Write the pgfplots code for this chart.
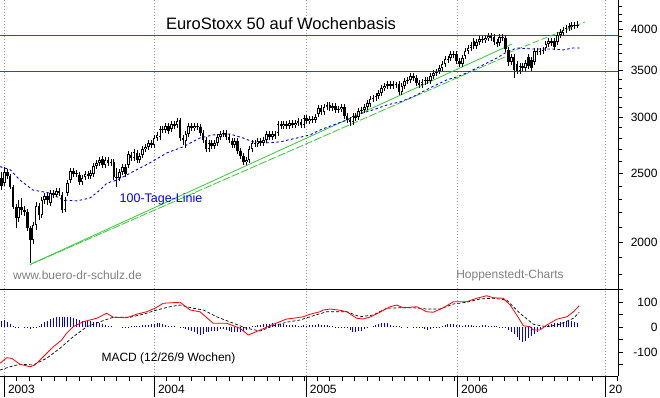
\documentclass[border=0pt]{standalone}
\usepackage{pgfplots}
\pgfplotsset{compat=1.18}
\usepackage{pgfplotstable}
\usepackage{fontspec}
\setmainfont{Liberation Sans}
\definecolor{trendgreen}{RGB}{51,204,51}
\definecolor{gridgray}{RGB}{150,150,150}
\definecolor{txtgray}{RGB}{128,128,128}

\pgfplotstableread{
i o h l c
0 2465 2514 2368 2399
1 2422 2555 2399 2514
2 2514 2538 2457 2481
3 2481 2497 2376 2391
4 2391 2407 2227 2241
5 2241 2263 2094 2163
6 2163 2292 2135 2241
7 2241 2307 2184 2220
8 2220 2249 2177 2205
9 2205 2227 2074 2094
10 2094 2108 1870 2014
11 2014 2135 1988 2114
12 2114 2278 2080 2249
13 2249 2271 2149 2184
14 2184 2315 2163 2292
15 2292 2345 2263 2322
16 2322 2345 2256 2292
17 2271 2368 2249 2345
18 2345 2368 2307 2330
19 2330 2383 2315 2360
20 2360 2383 2322 2345
21 2330 2353 2198 2220
22 2220 2315 2205 2292
23 2345 2446 2322 2422
24 2446 2546 2422 2522
25 2522 2546 2473 2497
26 2497 2530 2473 2505
27 2489 2514 2407 2430
28 2430 2489 2407 2465
29 2473 2522 2446 2497
30 2497 2522 2457 2481
31 2481 2530 2457 2505
32 2497 2588 2473 2563
33 2563 2613 2538 2588
34 2588 2638 2563 2613
35 2621 2647 2546 2571
36 2571 2638 2546 2613
37 2613 2638 2563 2588
38 2588 2621 2563 2596
39 2596 2621 2446 2473
40 2473 2546 2391 2465
41 2465 2538 2438 2514
42 2514 2580 2489 2555
43 2555 2580 2473 2497
44 2571 2690 2546 2664
45 2655 2681 2605 2630
46 2630 2707 2605 2681
47 2673 2699 2588 2613
48 2613 2673 2588 2647
49 2655 2734 2630 2707
50 2707 2752 2681 2725
51 2725 2787 2699 2761
52 2761 2787 2716 2743
53 2743 2833 2716 2805
54 2805 2860 2779 2833
55 2814 2917 2787 2888
56 2888 2917 2851 2879
57 2879 2945 2851 2917
58 2917 2945 2842 2870
59 2888 2964 2860 2936
60 2936 2964 2888 2917
61 2926 2995 2898 2964
62 2975 2995 2779 2805
63 2805 2833 2743 2787
64 2779 2870 2716 2842
65 2842 2945 2814 2917
66 2917 2945 2870 2898
67 2898 2945 2870 2917
68 2917 2945 2879 2907
69 2907 2936 2823 2851
70 2851 2879 2761 2787
71 2787 2814 2681 2707
72 2707 2787 2681 2761
73 2761 2787 2707 2734
74 2734 2787 2707 2761
75 2761 2842 2734 2814
76 2814 2870 2787 2842
77 2842 2879 2814 2851
78 2851 2879 2787 2814
79 2814 2842 2761 2787
80 2779 2805 2716 2743
81 2743 2805 2716 2779
82 2779 2805 2664 2690
83 2690 2716 2621 2647
84 2647 2673 2571 2596
85 2596 2638 2571 2613
86 2613 2734 2588 2707
87 2707 2787 2681 2761
88 2761 2787 2725 2752
89 2752 2805 2725 2779
90 2779 2805 2734 2761
91 2761 2814 2734 2787
92 2787 2870 2761 2842
93 2842 2870 2787 2814
94 2814 2870 2787 2842
95 2842 2870 2796 2823
96 2851 2964 2823 2936
97 2936 2964 2888 2917
98 2917 2964 2888 2936
99 2936 2964 2888 2917
100 2917 2975 2888 2945
101 2945 2975 2898 2926
102 2926 2975 2898 2945
103 2945 2995 2917 2964
104 2955 2985 2898 2926
105 2926 3024 2898 2995
106 2995 3024 2936 2964
107 2964 3015 2936 2985
108 2985 3015 2945 2975
109 2975 3034 2945 3005
110 3034 3124 3005 3094
111 3094 3124 3024 3054
112 3054 3134 3024 3104
113 3104 3155 3074 3124
114 3124 3155 3064 3094
115 3094 3145 3064 3114
116 3114 3145 3044 3074
117 3074 3114 3044 3084
118 3084 3134 3054 3104
119 3104 3134 2985 3015
120 3015 3044 2945 2975
121 2975 3005 2917 2955
122 2955 3044 2926 3015
123 3015 3044 2964 2995
124 3005 3094 2975 3064
125 3064 3104 3034 3074
126 3074 3134 3044 3104
127 3104 3175 3074 3145
128 3134 3219 3104 3188
129 3188 3229 3155 3198
130 3198 3250 3165 3219
131 3219 3282 3188 3250
132 3250 3336 3219 3303
133 3303 3357 3271 3325
134 3325 3379 3293 3346
135 3346 3379 3293 3325
136 3325 3379 3293 3346
137 3336 3368 3303 3346
138 3346 3379 3229 3261
139 3261 3357 3229 3325
140 3325 3412 3293 3379
141 3379 3423 3346 3390
142 3390 3468 3357 3434
143 3434 3468 3379 3412
144 3412 3445 3325 3357
145 3357 3390 3303 3336
146 3336 3401 3303 3368
147 3368 3423 3336 3390
148 3390 3423 3346 3379
149 3379 3468 3346 3434
150 3434 3501 3401 3468
151 3468 3513 3434 3479
152 3490 3559 3456 3524
153 3524 3605 3490 3570
154 3570 3664 3536 3628
155 3628 3664 3582 3617
156 3640 3724 3605 3688
157 3688 3724 3640 3676
158 3688 3724 3570 3605
159 3605 3640 3536 3570
160 3570 3676 3536 3640
161 3664 3760 3628 3724
162 3724 3797 3688 3760
163 3760 3834 3724 3797
164 3847 3884 3748 3785
165 3785 3872 3748 3834
166 3834 3910 3797 3872
167 3872 3910 3822 3859
168 3859 3922 3822 3884
169 3884 3948 3847 3910
170 3910 3948 3847 3884
171 3897 3935 3797 3834
172 3834 3872 3772 3809
173 3822 3935 3785 3897
174 3897 3935 3847 3884
175 3884 3922 3712 3748
176 3736 3772 3547 3593
177 3593 3688 3559 3652
178 3652 3688 3412 3501
179 3570 3605 3456 3490
180 3490 3582 3456 3547
181 3547 3582 3490 3524
182 3524 3617 3490 3582
183 3652 3688 3513 3547
184 3617 3652 3490 3524
185 3593 3760 3559 3724
186 3724 3760 3676 3712
187 3712 3760 3676 3724
188 3724 3772 3688 3736
189 3760 3847 3724 3809
190 3809 3884 3772 3847
191 3847 3884 3785 3822
192 3847 3884 3736 3772
193 3834 3961 3797 3922
194 3922 4000 3884 3961
195 3948 4026 3910 3987
196 3987 4052 3948 4013
197 4013 4079 3974 4039
198 4026 4092 3987 4052
199 4052 4092 4000 4039
200 4039 4106 4013 4052
}\candles

\pgfplotstableread{
i v
0 25
1 28
2 21
3 12
4 5
5 2
6 1
7 0
8 -2
9 -4
10 -8
11 -3
12 1
13 5
14 12
15 19
16 25
17 32
18 36
19 39
20 39
21 41
22 39
23 39
24 39
25 35
26 32
27 28
28 25
29 25
30 25
31 25
32 21
33 19
34 16
35 12
36 8
37 5
38 3
39 0
40 0
41 0
42 -1
43 2
44 2
45 3
46 5
47 5
48 6
49 8
50 8
51 10
52 12
53 12
54 16
55 16
56 12
57 8
58 5
59 5
60 3
61 0
62 -3
63 -5
64 -8
65 -11
66 -15
67 -19
68 -28
69 -32
70 -28
71 -21
72 -19
73 -15
74 -15
75 -15
76 -8
77 -8
78 -11
79 -15
80 -19
81 -21
82 -21
83 -19
84 -15
85 -11
86 -5
87 3
88 5
89 8
90 10
91 12
92 12
93 14
94 16
95 16
96 14
97 12
98 12
99 10
100 9
101 8
102 8
103 6
104 6
105 8
106 5
107 8
108 8
109 10
110 12
111 10
112 9
113 8
114 6
115 4
116 1
117 -1
118 -3
119 -4
120 -5
121 -11
122 -19
123 -21
124 -17
125 -15
126 -8
127 -5
128 0
129 5
130 8
131 11
132 15
133 16
134 16
135 8
136 5
137 4
138 3
139 1
140 0
141 -1
142 0
143 -1
144 -2
145 -4
146 -4
147 -8
148 -12
149 -8
150 -5
151 -3
152 2
153 5
154 8
155 11
156 12
157 12
158 10
159 8
160 5
161 7
162 8
163 8
164 6
165 5
166 5
167 8
168 8
169 6
170 5
171 4
172 3
173 1
174 -2
175 -5
176 -10
177 -18
178 -28
179 -40
180 -52
181 -58
182 -55
183 -45
184 -35
185 -28
186 -18
187 -8
188 2
189 5
190 8
191 12
192 15
193 18
194 20
195 22
196 24
197 25
198 24
199 21
200 16
}\hist

% build candle segments from the OHLC table
\pgfplotstablegetrowsof{\candles}
\pgfmathtruncatemacro{\lastrow}{\pgfplotsretval-1}
\gdef\wickpts{}\gdef\bodypts{}\gdef\hollowpts{}
\pgfplotsforeachungrouped \r in {0,...,\lastrow}{%
  \pgfplotstablegetelem{\r}{i}\of{\candles}\edef\ci{\pgfplotsretval}%
  \pgfplotstablegetelem{\r}{o}\of{\candles}\edef\co{\pgfplotsretval}%
  \pgfplotstablegetelem{\r}{h}\of{\candles}\edef\ch{\pgfplotsretval}%
  \pgfplotstablegetelem{\r}{l}\of{\candles}\edef\cl{\pgfplotsretval}%
  \pgfplotstablegetelem{\r}{c}\of{\candles}\edef\cc{\pgfplotsretval}%
  \pgfmathsetmacro{\blo}{min(\co,\cc)}%
  \pgfmathsetmacro{\bhi}{max(max(\co,\cc),\blo+8)}%
  \xdef\wickpts{\wickpts (\ci,\cl) (\ci,\ch) (\ci,nan) }%
  \xdef\bodypts{\bodypts (\ci,\blo) (\ci,\bhi) (\ci,nan) }%
  \pgfmathsetmacro{\wlo}{\co*1.0032}%
  \pgfmathsetmacro{\whi}{\cc/1.0032}%
  \pgfmathtruncatemacro{\isup}{\whi>\wlo ? 1 : 0}%
  \ifnum\isup=1 \xdef\hollowpts{\hollowpts (\ci,\wlo) (\ci,\whi) (\ci,nan) }\fi
}

\begin{document}
\begin{tikzpicture}
\path[use as bounding box] (0pt,0pt) rectangle (660pt,397pt);

\begin{axis}[
  at={(0pt,108pt)}, anchor=south west,
  width=618pt, height=289pt, scale only axis,
  xmin=-0.52, xmax=214.06,
  ymode=log, ymin=1716, ymax=4396,
  axis x line*=bottom, axis y line*=right,
  axis line style={black, line width=0.8pt},
  xtick={0.87,52.95,105.7,158.2,209.5}, xticklabels={},
  xtick style={draw=none},
  xmajorgrids, major x grid style={gridgray, dash pattern=on 1pt off 2pt, line width=0.6pt},
  ytick={2000,2500,3000,3500,4000},
  yticklabels={2000,2500,3000,3500,4000},
  minor ytick={1800,1900,2100,2200,2300,2400,2600,2700,2800,2900,3100,3200,3300,3400,3600,3700,3800,3900,4100,4200,4300},
  tick align=outside, major tick length=5pt, minor tick length=4pt,
  tick style={black, line width=0.6pt},
  yticklabel style={font=\fontsize{12}{12}\selectfont, anchor=east, xshift=38pt},
  unbounded coords=jump,
  clip=true,
]
\addplot[red, line width=0.9pt] coordinates {(-0.52,3920) (214.06,3920)};
\addplot[red, line width=0.9pt] coordinates {(-0.52,3488) (214.06,3488)};
\addplot[trendgreen, line width=0.8pt] coordinates {(9.9,1858) (177.3,3809)};
\addplot[trendgreen, line width=0.8pt, dash pattern=on 8pt off 2pt] coordinates {(9.9,1858) (174.8,3652)};
\addplot[trendgreen, line width=0.8pt, dash pattern=on 6pt off 3pt] coordinates {(175.9,3700) (202.6,4092)};
\addplot[blue, line width=0.9pt, dash pattern=on 2.5pt off 2.5pt] coordinates {
(-0.5,2555) (3.0,2530) (6.4,2446) (10.9,2368) (16.8,2345) (21.4,2292) (26.2,2286)
(30.7,2307) (34.2,2368) (36.6,2422) (40.1,2446) (45.7,2514) (51.6,2588) (57.5,2673)
(63.0,2725) (68.9,2805) (73.4,2833) (79.3,2842) (83.9,2805) (87.3,2770) (92.2,2761)
(96.7,2770) (102.6,2805) (107.1,2833) (110.6,2879) (115.1,2926) (120.0,2975)
(125.5,3044) (129.0,3074) (133.9,3124) (138.4,3155) (142.9,3208) (148.8,3303)
(154.7,3390) (158.2,3423) (161.6,3468) (165.1,3524) (168.6,3582) (172.0,3640)
(175.5,3712) (179.0,3760) (184.6,3748) (191.5,3748) (195.0,3736) (198.4,3760) (200.9,3760)};
\edef\plotwicks{\noexpand\addplot[black, line width=0.7pt] coordinates {\wickpts};}\plotwicks
\edef\plotbodies{\noexpand\addplot[black, line width=2.6pt] coordinates {\bodypts};}\plotbodies
\edef\plothollow{\noexpand\addplot[white, line width=1.0pt] coordinates {\hollowpts};}\plothollow
\end{axis}

\begin{axis}[
  at={(0pt,21pt)}, anchor=south west,
  width=618pt, height=87pt, scale only axis,
  xmin=-0.52, xmax=214.06,
  ymin=-196, ymax=152,
  axis x line*=bottom, axis y line*=right,
  axis line style={black, line width=0.8pt},
  xtick={0.87,52.95,105.7,158.2,209.5},
  xticklabels={2003,2004,2005,2006,20},
  minor xtick={5.216,9.562,...,214},
  xmajorgrids, major x grid style={gridgray, dash pattern=on 1pt off 2pt, line width=0.6pt},
  ytick={-100,0,100}, yticklabels={-100,0,100},
  minor ytick={-150,-50,50,150},
  tick align=outside, major tick length=5pt, minor tick length=5pt,
  major x tick style={/pgfplots/major tick length=21pt},
  tick style={black, line width=0.6pt},
  yticklabel style={font=\fontsize{12}{12}\selectfont, anchor=east, xshift=38pt},
  xticklabel style={font=\fontsize{12}{12}\selectfont, anchor=west, xshift=0.5pt, yshift=-8pt},
  clip=true,
]
\addplot[blue, ycomb, line width=0.85pt] table[x=i, y=v] {\hist};
\addplot[black, line width=0.7pt, dash pattern=on 3pt off 2pt] coordinates {
(-0.5,-172) (3.0,-159) (6.4,-149) (11.0,-152) (15.7,-125) (20.3,-85) (24.9,-39)
(29.6,1) (34.2,21) (38.8,39) (44.6,39) (49.2,51) (53.9,68) (58.5,81) (62.0,88)
(66.6,75) (70.1,68) (74.7,41) (80.5,15) (85.1,-5) (89.8,-16) (94.4,5) (99.0,19)
(103.6,28) (108.3,45) (112.9,61) (119.9,61) (124.5,41) (129.1,48) (133.7,75)
(138.4,77) (143.0,77) (147.6,72) (152.3,72) (156.9,92) (161.5,99) (166.1,112)
(170.8,115) (175.4,108) (180.0,55) (184.7,11) (189.3,1) (193.9,11) (198.6,35) (200.6,59)};
\addplot[red, line width=0.8pt] coordinates {
(-0.5,-145) (1.8,-123) (3.5,-125) (6.4,-149) (9.9,-159) (11.6,-152) (15.1,-112)
(18.0,-79) (20.9,-52) (22.6,-25) (24.9,1) (28.4,21) (30.7,28) (33.1,35) (36.5,55)
(38.8,39) (43.5,37) (46.9,51) (50.4,61) (53.3,75) (56.2,95) (62.0,99) (65.5,68)
(68.9,61) (73.5,15) (78.2,15) (82.8,-5) (85.7,-32) (89.8,-12) (94.4,11) (99.0,32)
(101.3,35) (104.8,41) (107.1,51) (110.6,61) (111.7,68) (114.1,72) (117.5,67)
(119.9,61) (123.3,35) (125.6,32) (128.0,40) (131.4,59) (134.9,81) (137.2,88)
(139.5,77) (144.2,81) (147.6,61) (149.9,59) (153.4,77) (156.9,101) (161.5,101)
(165.0,115) (168.5,125) (170.8,117) (174.2,115) (176.6,88) (178.9,48) (181.2,5)
(183.5,1) (184.7,-12) (187.0,-12) (189.3,8) (192.8,31) (196.3,41) (198.6,61) (200.6,85)};
\end{axis}

\node[font=\fontsize{16.5}{18}\selectfont] at (281pt,373pt) {EuroStoxx 50 auf Wochenbasis};
\node[blue, font=\fontsize{12.5}{13}\selectfont] at (161pt,198pt) {100-Tage-Linie};
\node[txtgray, font=\fontsize{12}{13}\selectfont] at (77.5pt,122pt) {www.buero-dr-schulz.de};
\node[txtgray, font=\fontsize{12}{13}\selectfont] at (510pt,122pt) {Hoppenstedt-Charts};
\node[font=\fontsize{12}{13}\selectfont] at (168.5pt,38.5pt) {MACD (12/26/9 Wochen)};
\end{tikzpicture}
\end{document}
